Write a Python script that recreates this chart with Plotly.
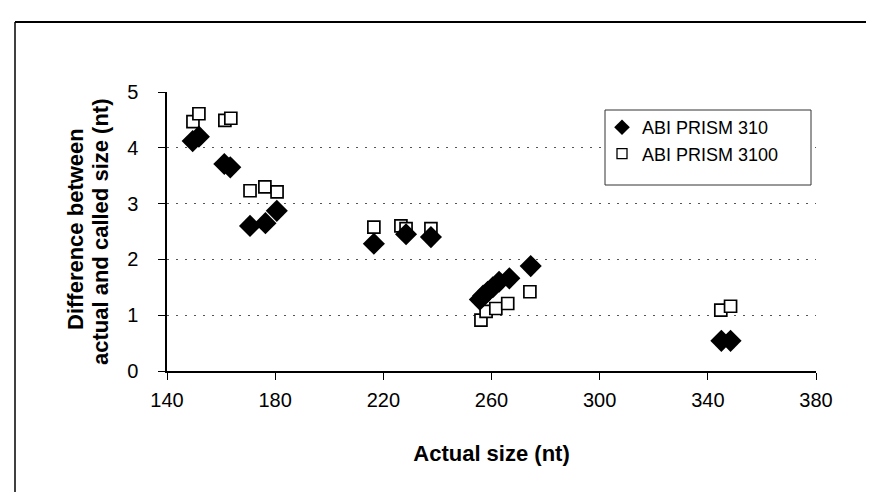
import plotly.graph_objects as go

# ABI PRISM 310 (filled diamonds)
x310 = [149.5, 151.8, 161.2, 163.4, 170.7, 176.4, 180.6, 216.5, 228.4, 237.6,
        255.7, 256.9, 258.6, 260.5, 262.8, 266.6, 274.5, 345.0, 348.4]
y310 = [4.12, 4.2, 3.71, 3.65, 2.6, 2.65, 2.87, 2.28, 2.45, 2.4,
        1.28, 1.35, 1.42, 1.5, 1.6, 1.66, 1.88, 0.54, 0.54]

# ABI PRISM 3100 (open squares)
x3100 = [149.6, 151.8, 161.4, 163.6, 170.7, 176.2, 180.7, 216.5, 226.5, 228.4, 237.6,
         256.1, 258.0, 261.6, 266.0, 274.2, 344.8, 348.4]
y3100 = [4.47, 4.61, 4.49, 4.53, 3.23, 3.3, 3.21, 2.58, 2.6, 2.55, 2.55,
         0.91, 1.07, 1.12, 1.21, 1.42, 1.09, 1.16]

xticks = [140, 180, 220, 260, 300, 340, 380]
yticks = [0, 1, 2, 3, 4, 5]
ytitle_lines = ["Difference between", "actual and called size (nt)"]

# plot-area pixel geometry (used only for placing frame/legend box/titles)
L, R, T, B = 159, 808, 84, 363
W, H = R - L, B - T


def px(xp):
    return (xp - L) / W


def py(yp):
    return (B - yp) / H


fig = go.Figure()
fig.add_trace(go.Scatter(
    x=x3100, y=y3100, mode="markers", name="ABI PRISM 3100",
    marker=dict(symbol="square", size=12, color="white",
                line=dict(color="black", width=1.7)),
    showlegend=False))
fig.add_trace(go.Scatter(
    x=x310, y=y310, mode="markers", name="ABI PRISM 310",
    marker=dict(symbol="diamond", size=17, color="black",
                line=dict(color="black", width=0)),
    showlegend=False))
# legend entries (smaller symbols, as in the original legend)
fig.add_trace(go.Scatter(
    x=[None], y=[None], mode="markers", name="ABI PRISM 310",
    legendgroup="a",
    marker=dict(symbol="diamond", size=12, color="black")))
fig.add_trace(go.Scatter(
    x=[None], y=[None], mode="markers", name="ABI PRISM 3100",
    legendgroup="b",
    marker=dict(symbol="square", size=10, color="white",
                line=dict(color="black", width=1.3))))

font = "Liberation Sans, Arial, sans-serif"
grid_dash = "2px,7px"
fig.update_layout(
    width=874, height=492,
    margin=dict(l=L, r=874 - R, t=T, b=492 - B),
    paper_bgcolor="white", plot_bgcolor="white",
    font=dict(family=font, color="black", size=20),
    showlegend=True,
    legend=dict(x=px(594), y=py(101), xanchor="left", yanchor="top",
                bgcolor="rgba(0,0,0,0)", borderwidth=0,
                font=dict(size=18, family=font), itemwidth=30,
                tracegroupgap=0),
    xaxis=dict(range=[140, 380], tickvals=xticks, ticks="outside",
               ticklen=7, tickcolor="black", showline=True, linecolor="black",
               linewidth=1.5, showgrid=False, zeroline=False,
               tickfont=dict(size=20), ticklabelstandoff=3,
               title=dict(text="<b>Actual size (nt)</b>", font=dict(size=22),
                          standoff=36)),
    yaxis=dict(range=[0, 5], tickvals=yticks, ticks="outside", ticklen=7,
               tickcolor="black", showline=True, linecolor="black",
               linewidth=1.5, showgrid=True, gridcolor="#555",
               griddash=grid_dash, gridwidth=1, zeroline=False,
               tickfont=dict(size=20), ticklabelstandoff=16),
    annotations=[
        dict(text="<b>%s</b>" % ytitle_lines[0], xref="paper", yref="paper",
             x=px(67), y=py(221), textangle=-90, showarrow=False,
             xanchor="center", yanchor="middle", font=dict(size=22)),
        dict(text="<b>%s</b>" % ytitle_lines[1], xref="paper", yref="paper",
             x=px(92), y=py(224), textangle=-90, showarrow=False,
             xanchor="center", yanchor="middle", font=dict(size=22)),
    ],
    shapes=[
        dict(type="rect", xref="paper", yref="paper",
             x0=px(597), x1=px(803), y0=py(102), y1=py(177),
             fillcolor="white", line=dict(color="#333", width=1),
             layer="above"),
        dict(type="line", xref="paper", yref="paper",
             x0=px(7), x1=px(880), y0=py(14), y1=py(14),
             line=dict(color="black", width=1.8)),
        dict(type="line", xref="paper", yref="paper",
             x0=px(7), x1=px(7), y0=py(14), y1=py(500),
             line=dict(color="black", width=1.5)),
    ],
)

fig.write_html("out.html")
